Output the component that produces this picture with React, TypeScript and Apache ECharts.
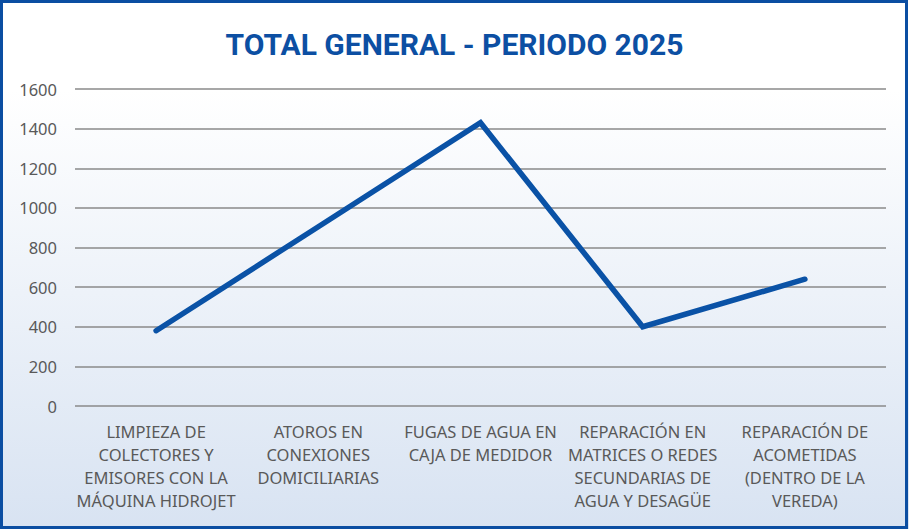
import React, { useEffect, useRef } from "react";
import * as echarts from "echarts";

const categories = [
  "LIMPIEZA DE\nCOLECTORES Y\nEMISORES CON LA\nMÁQUINA HIDROJET",
  "ATOROS EN\nCONEXIONES\nDOMICILIARIAS",
  "FUGAS DE AGUA EN\nCAJA DE MEDIDOR",
  "REPARACIÓN EN\nMATRICES O REDES\nSECUNDARIAS DE\nAGUA Y DESAGÜE",
  "REPARACIÓN DE\nACOMETIDAS\n(DENTRO DE LA\nVEREDA)",
];
const values = [380, 905, 1430, 400, 640];
const yTicks = { min: 0, max: 1600, interval: 200 };
const titleText = "TOTAL GENERAL - PERIODO 2025";

export default function App() {
  const ref = useRef<HTMLDivElement>(null);
  useEffect(() => {
    if (!ref.current) return;
    const chart = echarts.init(ref.current, null, { renderer: "svg" });
    chart.setOption({
      animation: false,
      backgroundColor: new echarts.graphic.LinearGradient(0, 0, 0, 1, [
        { offset: 0, color: "#ffffff" },
        { offset: 0.17, color: "#ffffff" },
        { offset: 1, color: "#d8e3f2" },
      ]),
      title: {
        text: titleText,
        left: "center",
        top: 24,
        textStyle: {
          fontFamily: "'Liberation Sans Narrow', 'Roboto', sans-serif",
          fontWeight: "bold",
          fontSize: 30,
          color: "#0c4fa3",
        },
      },
      graphic: [
        {
          type: "rect",
          shape: { x: 1.5, y: 1.5, width: 905, height: 526 },
          style: { fill: "none", stroke: "#0b4ea2", lineWidth: 3 },
          silent: true,
        },
      ],
      grid: { left: 75, right: 23, top: 89, bottom: 123, containLabel: false },
      xAxis: {
        type: "category",
        data: categories,
        boundaryGap: true,
        axisLine: { show: false },
        axisTick: { show: false },
        axisLabel: {
          interval: 0,
          margin: 14,
          color: "#595959",
          fontFamily: "'Noto Sans', sans-serif",
          fontSize: 16.5,
          lineHeight: 23,
        },
      },
      yAxis: {
        type: "value",
        min: yTicks.min,
        max: yTicks.max,
        interval: yTicks.interval,
        axisLine: { show: false },
        axisTick: { show: false },
        axisLabel: {
          margin: 18,
          color: "#595959",
          fontFamily: "'Noto Sans', sans-serif",
          fontSize: 16.5,
          formatter: (v: number) => String(v),
        },
        splitLine: { lineStyle: { color: "#8a8a8a", width: 1.5 } },
      },
      series: [
        {
          type: "line",
          data: values,
          symbol: "none",
          lineStyle: { color: "#0a52a6", width: 5.5, cap: "round", join: "miter" },
        },
      ],
    });
    return () => chart.dispose();
  }, []);
  return (
    <div
      ref={ref}
      style={{ position: "fixed", left: 0, top: 0, width: 909, height: 529 }}
    />
  );
}
